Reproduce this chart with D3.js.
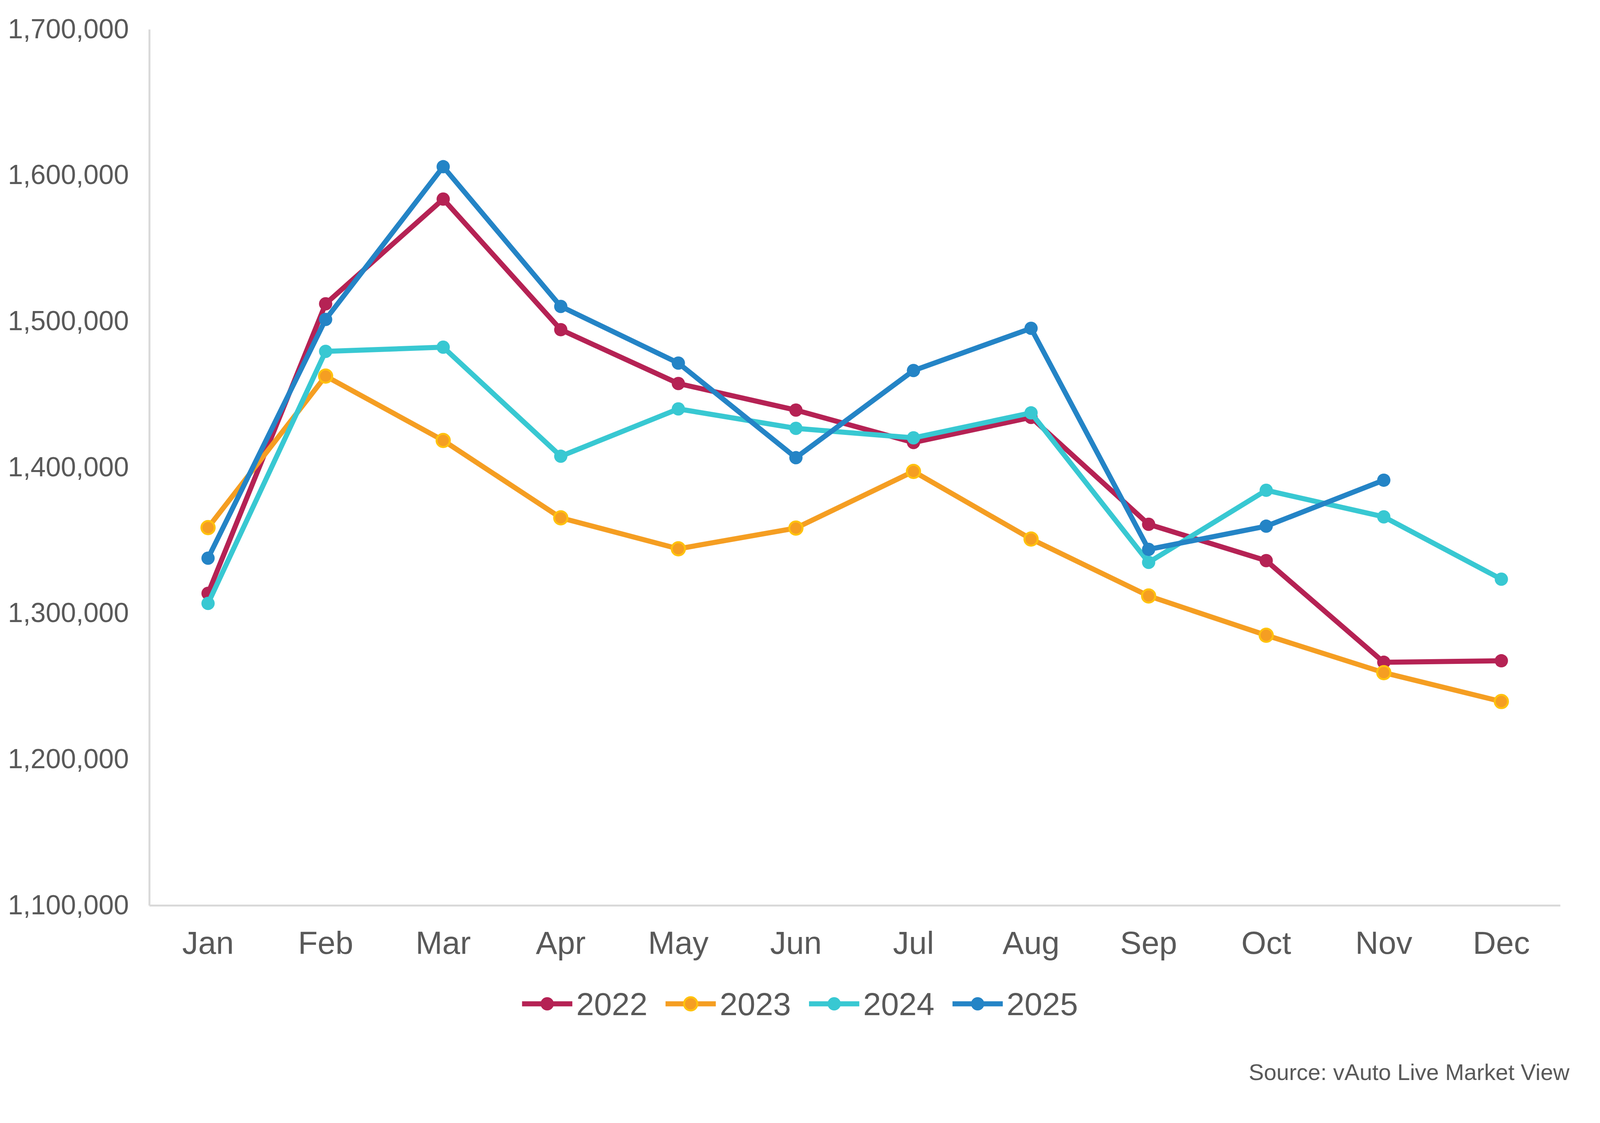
<!DOCTYPE html>
<html>
<head>
<meta charset="utf-8">
<script src="https://cdn.jsdelivr.net/npm/d3@7"></script>
<style>
  html, body { margin: 0; padding: 0; width: 100%; height: 100%; overflow: hidden; background: #fff; }
  text { font-family: "Liberation Sans", Arial, sans-serif; fill: #595959; }
</style>
</head>
<body>
<div id="figure"></div>
<script>

var months = ["Jan", "Feb", "Mar", "Apr", "May", "Jun", "Jul", "Aug", "Sep", "Oct", "Nov", "Dec"];
var years = ["2022", "2023", "2024", "2025"];

var values2022 = [1313700, 1512000, 1583700, 1494300, 1457400, 1439200, 1417000, 1434200, 1361000, 1336100, 1266500, 1267500];
var values2023 = [1358700, 1462500, 1418400, 1365400, 1344200, 1358400, 1397200, 1350900, 1311900, 1285000, 1259400, 1239600];
var values2024 = [1306800, 1479400, 1482300, 1407600, 1440000, 1426700, 1420200, 1437300, 1334900, 1384300, 1366100, 1323400];
var values2025 = [1337800, 1501300, 1605900, 1510200, 1471400, 1406600, 1466300, 1495200, 1343800, 1359700, 1391200];

var yTicks = [1100000, 1200000, 1300000, 1400000, 1500000, 1600000, 1700000];
var colors = ["#B52254", "#F59E22", "#38C8D2", "#2484C6"];
var sourceText = "Source: vAuto Live Market View";

// layout was measured on a 5499 x 2874 page; stretch it to whatever window we get
var width = window.innerWidth || 5499;
var height = window.innerHeight || 2874;
var sx = width / 5499,
    sy = height / 2874;

var margin = {top: 75 * sy, right: 137 * sx, bottom: 557 * sy, left: 513 * sx};
var innerW = width - margin.left - margin.right,
    innerH = height - margin.top - margin.bottom;

// y labels must fit in the left margin ("1,700,000" is about 4.45em wide)
var yPad = 70 * sx;
var yFont = Math.min(80 * sy, (margin.left - yPad - 20) / 4.45);
var font = 82 * sy;

var series = [values2022, values2023, values2024, values2025];

var svg = d3.select("#figure").append("svg")
    .attr("width", width)
    .attr("height", height)
    .style("display", "block");

var g = svg.append("g")
    .attr("transform", "translate(" + margin.left + "," + margin.top + ")");

var x = d3.scaleBand()
    .domain(months)
    .range([0, innerW]);

var y = d3.scaleLinear()
    .domain([1100000, 1700000])
    .range([innerH, 0]);

// y axis
var yAxis = g.append("g")
    .call(d3.axisLeft(y).tickValues(yTicks).tickSize(0).tickPadding(yPad).tickFormat(d3.format(",")));
yAxis.select(".domain").attr("stroke", "#D9D9D9").attr("stroke-width", 5 * sy);
yAxis.selectAll("text")
    .style("font-size", yFont + "px")
    .attr("fill", "#595959");

// x axis
var xAxis = g.append("g")
    .attr("transform", "translate(0," + innerH + ")")
    .call(d3.axisBottom(x).tickSize(0).tickPadding(66 * sy));
xAxis.select(".domain").attr("stroke", "#D9D9D9").attr("stroke-width", 5 * sy);
xAxis.selectAll("text")
    .style("font-size", font + "px")
    .attr("fill", "#595959");

var line = d3.line()
    .x(function(d, i) { return x(months[i]) + x.bandwidth() / 2; })
    .y(function(d) { return y(d); });

series.forEach(function(vals, s) {
  g.append("path")
    .datum(vals)
    .attr("fill", "none")
    .attr("stroke", colors[s])
    .attr("stroke-width", 13 * sy)
    .attr("stroke-linejoin", "round")
    .attr("d", line);

  g.selectAll(".dot" + s)
    .data(vals)
    .enter().append("circle")
    .attr("class", "dot" + s)
    .attr("cx", function(d, i) { return x(months[i]) + x.bandwidth() / 2; })
    .attr("cy", function(d) { return y(d); })
    .attr("r", 17 * sy)
    .attr("fill", colors[s])
    .attr("stroke", s == 1 ? "#FFC20E" : "none")
    .attr("stroke-width", 5 * sy);
});

// legend, centred on the page
var legend = svg.append("g");
var lineLen = 144 * Math.min(sx * 1.2, sy);

var item = legend.selectAll(".item")
    .data(years)
    .enter().append("g")
    .attr("class", "item");

item.append("line")
    .attr("x1", 0).attr("x2", lineLen)
    .attr("stroke", function(d, i) { return colors[i]; })
    .attr("stroke-width", 13 * sy);

item.append("circle")
    .attr("cx", lineLen / 2)
    .attr("r", 17 * sy)
    .attr("fill", function(d, i) { return colors[i]; })
    .attr("stroke", function(d, i) { return i == 1 ? "#FFC20E" : "none"; })
    .attr("stroke-width", 5 * sy);

item.append("text")
    .attr("x", lineLen + 10 * sy)
    .attr("dy", "0.35em")
    .style("font-size", font + "px")
    .text(function(d) { return d; });

var cursor = 0;
item.attr("transform", function() {
  var tx = cursor;
  cursor += lineLen + 10 * sy + d3.select(this).select("text").node().getComputedTextLength() + 62 * sx;
  return "translate(" + tx + ",0)";
});
var legendW = cursor - 62 * sx;
legend.attr("transform", "translate(" + ((width - legendW) / 2) + "," + (2569 * sy) + ")");

svg.append("text")
    .attr("x", 5394 * sx)
    .attr("y", 2764 * sy)
    .attr("text-anchor", "end")
    .style("font-size", (58 * sy) + "px")
    .text(sourceText);

</script>
</body>
</html>
